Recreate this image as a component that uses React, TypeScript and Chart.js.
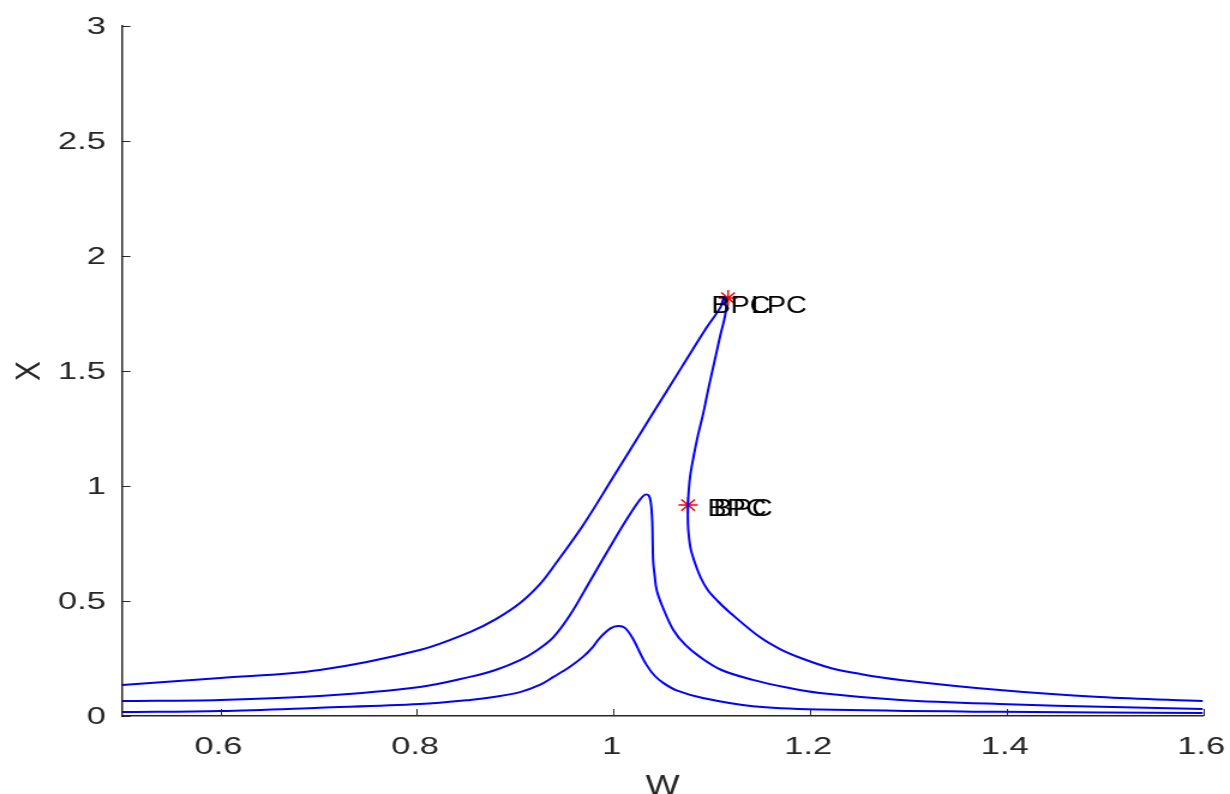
import React, { useEffect, useRef } from "react";
import { Chart, registerables } from "chart.js";

Chart.register(...registerables);

// ---------------- data ----------------
const lowerW = [0.5, 0.6, 0.701, 0.803, 0.854, 0.88, 0.905, 0.925, 0.939, 0.955, 0.969, 0.978, 0.986, 0.997, 1.005, 1.012, 1.02, 1.027, 1.034, 1.042, 1.051, 1.065, 1.091, 1.142, 1.21, 1.393, 1.6];
const lowerX = [0.017, 0.022, 0.036, 0.052, 0.07, 0.084, 0.104, 0.135, 0.17, 0.212, 0.257, 0.295, 0.339, 0.381, 0.391, 0.382, 0.335, 0.275, 0.22, 0.175, 0.143, 0.11, 0.078, 0.042, 0.028, 0.018, 0.013];

const middleW = [0.5, 0.6, 0.701, 0.803, 0.854, 0.88, 0.905, 0.922, 0.939, 0.956, 0.976, 1.0, 1.015, 1.026, 1.032, 1.036, 1.038, 1.0395, 1.04, 1.0405, 1.042, 1.044, 1.05, 1.061, 1.073, 1.088, 1.11, 1.142, 1.175, 1.21, 1.292, 1.393, 1.508, 1.6];
const middleX = [0.065, 0.07, 0.087, 0.126, 0.17, 0.2, 0.243, 0.285, 0.343, 0.44, 0.585, 0.76, 0.865, 0.935, 0.962, 0.958, 0.93, 0.85, 0.75, 0.67, 0.61, 0.548, 0.475, 0.374, 0.31, 0.257, 0.2, 0.157, 0.125, 0.1, 0.07, 0.052, 0.039, 0.03];

const upperW = [0.5, 0.6, 0.701, 0.803, 0.854, 0.88, 0.905, 0.925, 0.94, 0.97, 1.0, 1.04, 1.07, 1.095, 1.109, 1.1126, 1.1145, 1.1085, 1.1025, 1.0965, 1.0915, 1.086, 1.0815, 1.078, 1.0762, 1.0757, 1.0762, 1.0785, 1.083, 1.089, 1.096, 1.106, 1.119, 1.149, 1.17, 1.192, 1.22, 1.251, 1.292, 1.393, 1.495, 1.6];
const upperX = [0.135, 0.165, 0.2, 0.287, 0.365, 0.42, 0.491, 0.572, 0.655, 0.835, 1.04, 1.315, 1.52, 1.69, 1.778, 1.822, 1.765, 1.65, 1.535, 1.42, 1.317, 1.22, 1.126, 1.04, 0.952, 0.88, 0.809, 0.73, 0.665, 0.6, 0.548, 0.5, 0.448, 0.343, 0.29, 0.25, 0.21, 0.183, 0.157, 0.113, 0.083, 0.065];

const starW = [1.1167, 1.076];
const starX = [1.817, 0.917];

const xTicks = [0.6, 0.8, 1.0, 1.2, 1.4, 1.6];
const xTickLabels = ["0.6", "0.8", "1", "1.2", "1.4", "1.6"];
const yTicks = [0, 0.5, 1, 1.5, 2, 2.5, 3];
const yTickLabels = ["0", "0.5", "1", "1.5", "2", "2.5", "3"];

const xTitle = "W";
const yTitle = "X";

// labels attached to star points: [star index, text, dx (px), dy (px)]
const pointLabels: [number, string, number, number][] = [
  [0, "BPC", -14, 15],
  [0, "LPC", 19, 15],
  [1, "BPC", 16, 11],
  [1, "BPC", 21, 11],
];

// ---------------- layout ----------------
const CSS_W = 1230;
const CSS_H = 794;
const STRETCH = 1.2;
const W = Math.round(CSS_W / STRETCH);
const H = CSS_H;
const AXIS_COLOR = "#262626";
const FONT = '"Liberation Sans", Arial, Helvetica, sans-serif';
const TICK_LEN = 7;

const toPts = (xs: number[], ys: number[]) => xs.map((x, i) => ({ x, y: ys[i] }));

function drawText(ctx: CanvasRenderingContext2D, text: string, x: number, y: number, align: CanvasTextAlign, k: number) {
  ctx.save();
  ctx.translate(x, y);
  ctx.scale(k, 1);
  ctx.textAlign = align;
  ctx.textBaseline = "alphabetic";
  ctx.fillText(text, 0, 0);
  ctx.restore();
}

const textPlugin = {
  id: "matlabText",
  afterDraw(chart: any) {
    const { ctx, chartArea, scales } = chart;
    const xs = scales.x;
    const ys = scales.y;
    ctx.save();
    // inward tick marks
    ctx.strokeStyle = AXIS_COLOR;
    ctx.lineWidth = 1;
    ctx.beginPath();
    yTicks.forEach((v) => {
      const p = Math.round(ys.getPixelForValue(v)) + 0.5;
      ctx.moveTo(chartArea.left, p);
      ctx.lineTo(chartArea.left + TICK_LEN, p);
    });
    xTicks.forEach((v) => {
      const p = Math.round(xs.getPixelForValue(v)) + 0.5;
      ctx.moveTo(p, chartArea.bottom);
      ctx.lineTo(p, chartArea.bottom - TICK_LEN);
    });
    ctx.stroke();

    // tick labels
    ctx.fillStyle = AXIS_COLOR;
    ctx.font = `23px ${FONT}`;
    yTicks.forEach((v, i) => {
      const p = ys.getPixelForValue(v);
      drawText(ctx, yTickLabels[i], chartArea.left - 13.4, p + 8.3, "right", 1.25);
    });
    xTicks.forEach((v, i) => {
      const p = xs.getPixelForValue(v);
      drawText(ctx, xTickLabels[i], p - 1.5, chartArea.bottom + 38, "center", 1.25);
    });

    // axis titles
    ctx.font = `30px ${FONT}`;
    drawText(ctx, xTitle, (chartArea.left + chartArea.right) / 2, chartArea.bottom + 79, "center", 1);
    ctx.save();
    ctx.translate(33, (chartArea.top + chartArea.bottom) / 2);
    ctx.rotate(-Math.PI / 2);
    ctx.textAlign = "center";
    ctx.textBaseline = "alphabetic";
    ctx.fillText(yTitle, 0, 0);
    ctx.restore();

    // point labels
    ctx.fillStyle = "#000000";
    ctx.font = `24px ${FONT}`;
    pointLabels.forEach(([idx, txt, dx, dy]) => {
      const px = xs.getPixelForValue(starW[idx]);
      const py = ys.getPixelForValue(starX[idx]);
      drawText(ctx, txt, px + dx, py + dy, "left", 1);
    });
    ctx.restore();
  },
};

export default function App() {
  const ref = useRef<HTMLCanvasElement | null>(null);

  useEffect(() => {
    if (!ref.current) return;
    const lineDs = (label: string, xs: number[], ys: number[]) => ({
      label,
      data: toPts(xs, ys),
      showLine: true,
      borderColor: "#0000ff",
      backgroundColor: "#0000ff",
      borderWidth: 2,
      pointRadius: 0,
      tension: 0.35,
      fill: false,
    });
    const chart = new Chart(ref.current, {
      type: "scatter",
      data: {
        datasets: [
          lineDs("lower", lowerW, lowerX),
          lineDs("middle", middleW, middleX),
          lineDs("upper", upperW, upperX),
          {
            label: "special points",
            data: toPts(starW, starX),
            showLine: false,
            pointStyle: "star",
            pointRadius: 8,
            borderColor: "#ff0000",
            backgroundColor: "#ff0000",
            borderWidth: 1.5,
          } as any,
        ],
      },
      options: {
        responsive: false,
        devicePixelRatio: 1,
        animation: false,
        events: [],
        layout: { padding: { left: 101.7, right: W - 1002.5, top: 26, bottom: H - 716 } },
        plugins: { legend: { display: false }, tooltip: { enabled: false } },
        scales: {
          x: {
            type: "linear",
            min: 0.5,
            max: 1.6,
            ticks: { display: false },
            grid: { display: true, drawOnChartArea: false, drawTicks: false },
            border: { display: true, color: AXIS_COLOR, width: 1.5 },
          },
          y: {
            type: "linear",
            min: 0,
            max: 3,
            ticks: { display: false },
            grid: { display: true, drawOnChartArea: false, drawTicks: false },
            border: { display: true, color: AXIS_COLOR, width: 1.5 },
          },
        },
      },
      plugins: [textPlugin],
    });
    return () => chart.destroy();
  }, []);

  return (
    <div style={{ position: "fixed", left: 0, top: 0, width: CSS_W, height: CSS_H, background: "#ffffff", overflow: "hidden" }}>
      <canvas ref={ref} width={W} height={H} style={{ width: `${CSS_W}px`, height: `${CSS_H}px`, display: "block" }} />
    </div>
  );
}
